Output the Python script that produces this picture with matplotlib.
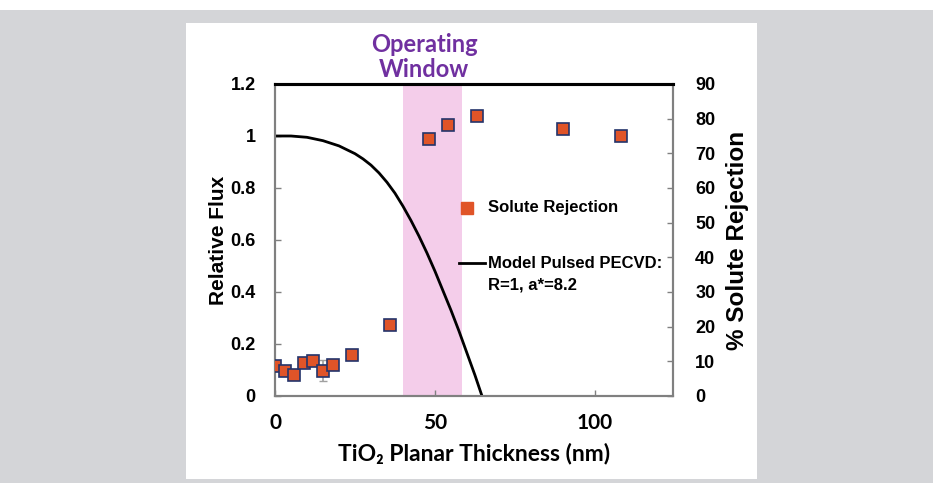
import numpy as np
import matplotlib.pyplot as plt
from matplotlib.patches import Rectangle
from matplotlib.lines import Line2D

# measured solute rejection (%), right axis
thickness_nm = [0, 3, 6, 9, 12, 15, 18, 24, 36, 48, 54, 63, 90, 108]
rejection_pct = [8.7, 7.3, 6.0, 9.4, 10.2, 7.3, 8.9, 11.8, 20.5, 74.0, 78.2, 80.8, 76.9, 75.0]
rejection_err = [0, 0, 0, 0, 0, 3.0, 0, 0, 0, 0, 0, 0, 0, 0]

# model curve, relative flux (left axis)
model_x = [0, 5, 10, 15, 20, 25, 27.5, 30, 32.5, 35, 37.5, 40, 42.5, 45, 47.5,
           50, 52.5, 55, 57.5, 60, 62.5, 64.7]
model_flux = [1.0, 1.0, 0.995, 0.982, 0.962, 0.932, 0.912, 0.888, 0.858, 0.822, 0.78,
              0.73, 0.675, 0.615, 0.55, 0.48, 0.405, 0.33, 0.25, 0.165, 0.08, 0.0]

window = [40, 58.4]
left_ticks = [0, 0.2, 0.4, 0.6, 0.8, 1.0, 1.2]
left_labels = ["0", "0.2", "0.4", "0.6", "0.8", "1", "1.2"]
right_ticks = [0, 10, 20, 30, 40, 50, 60, 70, 80, 90]
x_ticks = [0, 50, 100]

arial = "Liberation Sans"
gothic = ["Lato", "DejaVu Sans"]

fig = plt.figure(figsize=(9.33, 4.83), dpi=100)
fig.patch.set_facecolor("white")
# grey page behind the white card
fig.patches.append(Rectangle((0, 0), 1, 1 - 10 / 483, transform=fig.transFigure,
                             facecolor="#d4d5d8", edgecolor="none", zorder=-10))
fig.patches.append(Rectangle((186 / 933, 1 - 479 / 483), (757 - 186) / 933, (479 - 23) / 483,
                             transform=fig.transFigure, facecolor="white",
                             edgecolor="none", zorder=-9))

ax = fig.add_axes([275 / 933, 1 - 396 / 483, 398 / 933, 312 / 483])
ax.set_facecolor("none")
ax2 = ax.twinx()

ax.axvspan(window[0], window[1], color="#f4cdea", zorder=0, lw=0)
ax.plot(model_x, model_flux, color="black", lw=2.0, zorder=3, solid_capstyle="butt")

ax2.errorbar(thickness_nm, rejection_pct, yerr=rejection_err, fmt="none",
             ecolor="#a0a0a0", elinewidth=1.2, capsize=3, zorder=2)
ax2.plot(thickness_nm, rejection_pct, linestyle="none", marker="s", markersize=8.5,
         markerfacecolor="#e05428", markeredgecolor="#24346b", markeredgewidth=1.2, zorder=4)

ax.set_xlim(0, 124.4)
ax.set_ylim(0, 1.2)
ax2.set_ylim(0, 90)

ax.set_xticks(x_ticks)
ax.set_xticklabels([str(v) for v in x_ticks], fontfamily=gothic, fontweight="bold", fontsize=15)
ax.set_yticks(left_ticks)
ax.set_yticklabels(left_labels, fontfamily=arial, fontweight="bold", fontsize=13)
ax2.set_yticks(right_ticks)
ax2.set_yticklabels([str(v) for v in right_ticks], fontfamily=arial, fontweight="bold", fontsize=13)

ax.tick_params(axis="both", direction="in", length=4, width=1, color="#808080", pad=14)
ax.tick_params(axis="x", pad=12)
ax2.tick_params(axis="y", direction="in", length=4, width=1, color="#808080", pad=16)

for a in (ax, ax2):
    for side in ("left", "right", "bottom"):
        a.spines[side].set_color("#808080")
        a.spines[side].set_linewidth(1.5)
    a.spines["top"].set_color("black")
    a.spines["top"].set_linewidth(2.2)

ax.set_ylabel("Relative Flux", fontfamily=arial, fontweight="bold", fontsize=15, labelpad=2)
ax2.set_ylabel("% Solute Rejection", fontfamily=arial, fontweight="bold", fontsize=17.5, labelpad=8)
ax.set_xlabel("TiO\u2082 Planar Thickness (nm)", fontfamily=gothic, fontweight="bold",
              fontsize=16.5, labelpad=7)

fig.text(424 / 933, 1 - 57 / 483, "Operating\nWindow", ha="center", va="center",
         color="#7030a0", fontfamily=gothic, fontweight="bold", fontsize=17, linespacing=1.15)

# legend drawn by hand so the line key sits on the first text line
ax.add_line(Line2D([0.482], [0.603], transform=ax.transAxes, marker="s", markersize=8,
                   markerfacecolor="#e05428", markeredgecolor="#e05428", linestyle="none"))
ax.text(0.535, 0.603, "Solute Rejection", transform=ax.transAxes, va="center", ha="left",
        fontfamily=arial, fontweight="bold", fontsize=12)
ax.add_line(Line2D([0.463, 0.527], [0.426, 0.426], transform=ax.transAxes,
                   color="black", lw=2.0))
ax.text(0.535, 0.426, "Model Pulsed PECVD:", transform=ax.transAxes, va="center", ha="left",
        fontfamily=arial, fontweight="bold", fontsize=12)
ax.text(0.535, 0.356, "R=1, a*=8.2", transform=ax.transAxes, va="center", ha="left",
        fontfamily=arial, fontweight="bold", fontsize=12)

fig.savefig("out.png", dpi=100)
